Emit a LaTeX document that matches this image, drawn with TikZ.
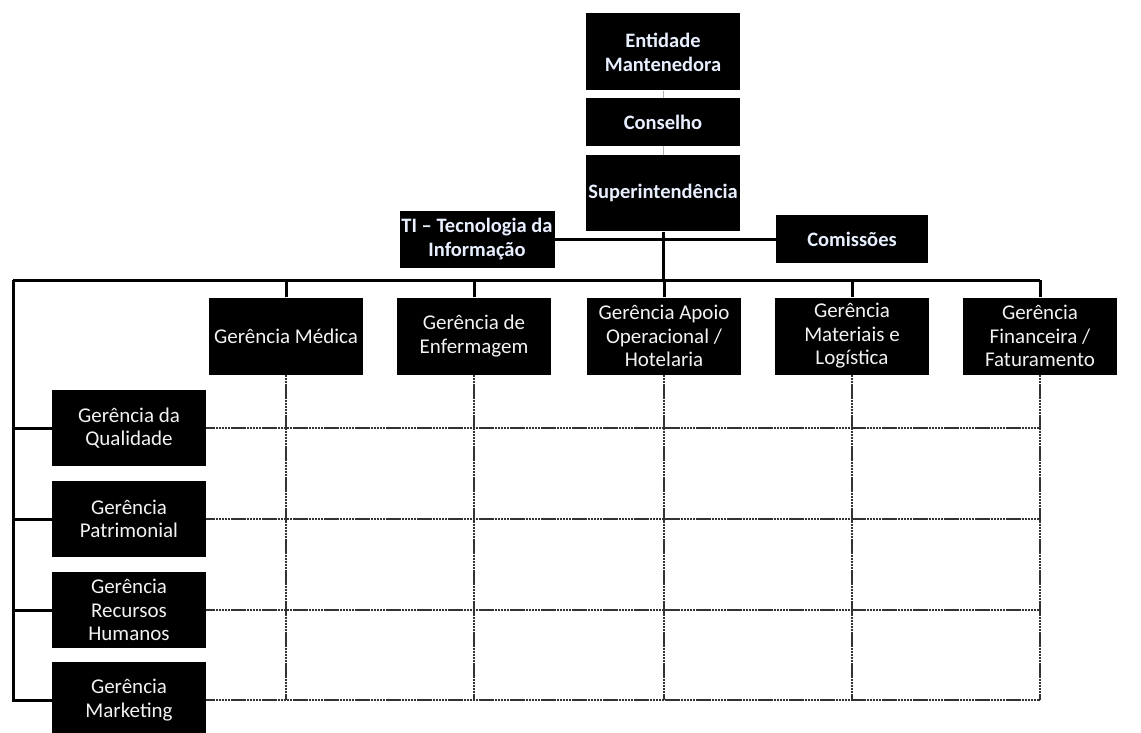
\documentclass[tikz,border=0pt]{standalone}
\usepackage{fontspec}
\setmainfont{Carlito}
\usepackage{tikz}
\usetikzlibrary{positioning}
\definecolor{topink}{HTML}{E8EFFF}
\definecolor{boxink}{HTML}{F2F2F2}
\definecolor{gridgray}{HTML}{333333}

\begin{document}
\begin{tikzpicture}[x=1pt, y=-1pt,
    org/.style={rectangle, fill=black, align=center, inner sep=1pt, minimum width=154, minimum height=77,
      font=\fontsize{21}{23.5}\selectfont},
    head/.style={org, text=topink, font=\bfseries\fontsize{20.5}{24}\selectfont},
    mgr/.style={org, text=boxink},
    link/.style={line width=3pt, black},
    grid/.style={line width=1.2pt, gridgray, dash pattern=on 2.5pt off 0.6pt}
]
    \useasboundingbox (0,0) rectangle (1141,733);

    % Top chain
    \node[head] (ent) at (663,52) {Entidade\\Mantenedora};
    \node[head, minimum height=48, below=7pt of ent] (cons) {Conselho};
    \node[head, minimum height=76, below=9pt of cons] (sup) {Superintendência};
    \draw[gray!60, line width=0.5pt] (ent.south) -- (cons.north);
    \draw[gray!60, line width=0.5pt] (cons.south) -- (sup.north);

    % Staff boxes
    \node[head, minimum width=155, minimum height=57] (ti) at (477,239) {TI -- Tecnologia da\\Informação};
    \node[head, minimum width=152, minimum height=48] (com) at (852,239) {Comissões};
    \draw[link] (ti.east) -- (com.west);

    % Managers row
    \node[mgr] (med) at (286,336) {Gerência Médica};
    \node[mgr] (enf) at (474,336) {Gerência de\\Enfermagem};
    \node[mgr] (apo) at (664,336) {Gerência Apoio\\Operacional /\\Hotelaria};
    \node[mgr] (mat) at (852,336) {Gerência\\Materiais e\\Logística};
    \node[mgr] (fin) at (1040,336) {Gerência\\Financeira /\\Faturamento};

    % Left column
    \node[mgr, minimum height=76] (qual) at (129,428) {Gerência da\\Qualidade};
    \node[mgr, minimum height=76] (pat) at (129,519) {Gerência\\Patrimonial};
    \node[mgr, minimum height=76] (rh) at (129,610) {Gerência\\Recursos\\Humanos};
    \node[mgr, minimum height=76] (mkt) at (129,700) {Gerência\\Marketing};

    % Main bus
    \coordinate (busL) at (13,280);
    \draw[link] (sup.south) -- (sup.south |- busL);
    \draw[link] (busL) -- (busL -| fin.north);
    \foreach \m in {med,enf,apo,mat,fin}
        \draw[link] (\m.north) -- (\m.north |- busL);
    \draw[link] (busL) -- (busL |- mkt.west) -- (mkt.west);
    \foreach \l in {qual,pat,rh}
        \draw[link] (busL |- \l.west) -- (\l.west);

    % Matrix lines
    \foreach \l in {qual,pat,rh,mkt}
        \draw[grid] (\l.east) -- (\l.east -| fin.south);
    \foreach \m in {med,enf,apo,mat,fin}
        \draw[grid] (\m.south) -- (\m.south |- mkt.east);

\end{tikzpicture}
\end{document}
